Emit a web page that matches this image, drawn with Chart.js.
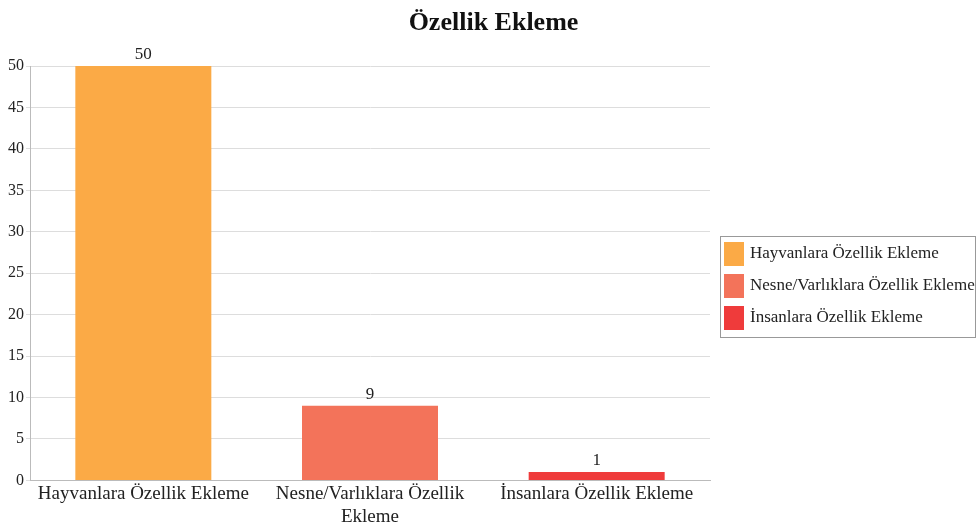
<!DOCTYPE html>
<html>
<head>
<meta charset="utf-8">
<script src="https://cdn.jsdelivr.net/npm/chart.js@4"></script>
<style>
  html, body { margin: 0; padding: 0; background: #fff; }
  #wrap { width: 977px; height: 532px; }
</style>
</head>
<body>
<div id="wrap"><canvas id="c"></canvas></div>
<script>
// values
const categories = ['Hayvanlara Özellik Ekleme', 'Nesne/Varlıklara Özellik Ekleme', 'İnsanlara Özellik Ekleme'];
const axisLabels = ['Hayvanlara Özellik Ekleme', ['Nesne/Varlıklara Özellik', 'Ekleme'], 'İnsanlara Özellik Ekleme'];
const counts = [50, 9, 1];
const barColors = ['#FBAA46', '#F3735A', '#EF3B3B'];
const chartTitle = 'Özellik Ekleme';

const FONT = '"Liberation Serif", "DejaVu Serif", serif';

// value labels above the bars
const valueLabels = {
  id: 'valueLabels',
  afterDatasetsDraw(chart) {
    const ctx = chart.ctx;
    const meta = chart.getDatasetMeta(0);
    ctx.save();
    ctx.fillStyle = '#222';
    ctx.font = '17px ' + FONT;
    ctx.textAlign = 'center';
    ctx.textBaseline = 'bottom';
    meta.data.forEach((bar, i) => {
      ctx.fillText(String(counts[i]), bar.x, bar.y - 3);
    });
    ctx.restore();
  },
};

// title centred on the whole canvas, legend framed at the right
const sideLegend = {
  id: 'sideLegend',
  afterDraw(chart) {
    const ctx = chart.ctx;
    const area = chart.chartArea;
    ctx.save();
    ctx.fillStyle = '#111';
    ctx.font = 'bold 26px ' + FONT;
    ctx.textAlign = 'center';
    ctx.textBaseline = 'middle';
    ctx.fillText(chartTitle, chart.width / 2 + 5, 23);

    const left = area.right + 10;
    const top = area.top + 170;
    const rowH = 32;
    const w = 255;
    const h = categories.length * rowH + 5;
    ctx.strokeStyle = '#999';
    ctx.lineWidth = 1;
    ctx.strokeRect(Math.round(left) + 0.5, Math.round(top) + 0.5, w, h);
    ctx.font = '17px ' + FONT;
    ctx.textAlign = 'left';
    categories.forEach((name, i) => {
      const y = top + 6 + i * rowH;
      ctx.fillStyle = barColors[i];
      ctx.fillRect(left + 4, y, 20, 24);
      ctx.fillStyle = '#222';
      ctx.fillText(name, left + 30, y + 12);
    });
    ctx.restore();
  },
};

new Chart(document.getElementById('c'), {
  type: 'bar',
  data: {
    labels: axisLabels,
    datasets: [{
      data: counts,
      backgroundColor: barColors,
      borderWidth: 0,
      barPercentage: 0.6,
      categoryPercentage: 1,
    }],
  },
  options: {
    responsive: true,
    maintainAspectRatio: false,
    animation: false,
    layout: { padding: { top: 66, right: 267, left: 6, bottom: 2 } },
    plugins: {
      title: { display: false },
      legend: { display: false },
      tooltip: { enabled: false },
    },
    scales: {
      x: {
        grid: { display: false, drawTicks: false },
        border: { color: '#bbb' },
        ticks: {
          color: '#222',
          font: { family: FONT, size: 19 },
          maxRotation: 0,
          autoSkip: false,
          padding: 2,
        },
      },
      y: {
        min: 0,
        max: 50,
        grid: { color: '#ddd', tickLength: 4 },
        border: { color: '#bbb' },
        ticks: {
          stepSize: 5,
          color: '#222',
          font: { family: FONT, size: 16 },
          padding: 2,
        },
      },
    },
  },
  plugins: [valueLabels, sideLegend],
});
</script>
</body>
</html>
